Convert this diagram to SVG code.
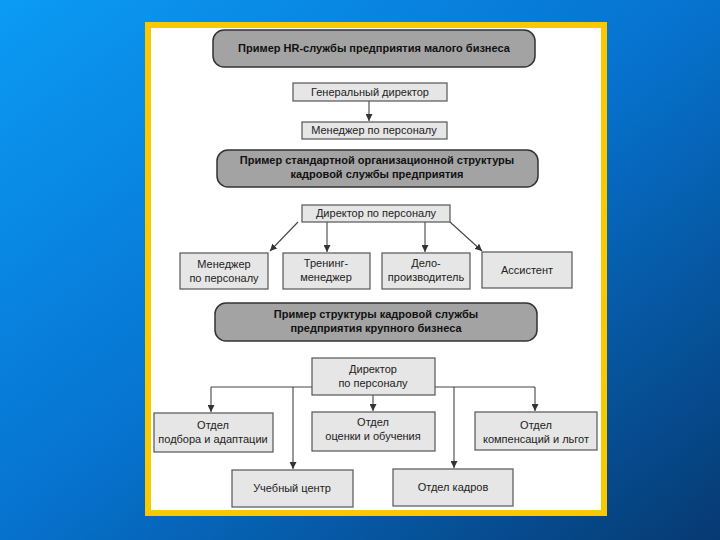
<svg xmlns="http://www.w3.org/2000/svg" width="720" height="540" viewBox="0 0 720 540">
<defs>
<linearGradient id="bg" x1="0" y1="0" x2="1" y2="1">
<stop offset="0" stop-color="#0B9BF5"/>
<stop offset="0.5" stop-color="#0672CE"/>
<stop offset="1" stop-color="#063A72"/>
</linearGradient>
<marker id="ah" viewBox="0 0 10 10" refX="10" refY="5" markerWidth="7" markerHeight="7" markerUnits="userSpaceOnUse" orient="auto">
<path d="M0,0 L10,5 L0,10 z" fill="#333"/>
</marker>
<style>
.hdr{fill:#A3A3A3;stroke:#333;stroke-width:1.5}
.box{fill:#E6E6E6;stroke:#555;stroke-width:1.2}
.ht{font-family:"Liberation Sans",Arial,sans-serif;font-size:11px;font-weight:bold;fill:#111;text-anchor:middle}
.bt{font-family:"Liberation Sans",Arial,sans-serif;font-size:11px;fill:#222;text-anchor:middle}
.ln{fill:none;stroke:#444;stroke-width:1.1}
.ar{fill:none;stroke:#444;stroke-width:1.1;marker-end:url(#ah)}
</style>
</defs>
<rect x="0" y="0" width="720" height="540" fill="url(#bg)"/>
<rect x="148" y="25" width="456" height="488" fill="#FFFFFF" stroke="#F8C800" stroke-width="6"/>

<g id="connectors">
<path class="ar" d="M369,101 V121"/>
<path class="ar" d="M298,222 L270,251"/>
<path class="ar" d="M327,222 V252"/>
<path class="ar" d="M425,222 V252"/>
<path class="ar" d="M450,222 L482,251"/>
<path class="ln" d="M312,387 H211"/>
<path class="ar" d="M211,387 V412"/>
<path class="ln" d="M435,387 H535"/>
<path class="ar" d="M535,387 V411"/>
<path class="ar" d="M373,395 V411"/>
<path class="ar" d="M293,387 V469"/>
<path class="ar" d="M454,387 V468"/>
</g>

<g id="header1">
<rect class="hdr" x="213" y="30" width="322" height="37" rx="11"/>
<text class="ht" x="374" y="52">Пример HR-службы предприятия малого бизнеса</text>
</g>
<g id="gen-director">
<rect class="box" x="293" y="83" width="154" height="18"/>
<text class="bt" x="370" y="96">Генеральный директор</text>
</g>
<g id="hr-manager-small">
<rect class="box" x="302" y="122" width="145" height="17"/>
<text class="bt" x="374" y="134">Менеджер по персоналу</text>
</g>

<g id="header2">
<rect class="hdr" x="217" y="150" width="321" height="37" rx="11"/>
<text class="ht" x="377" y="164">Пример стандартной организационной структуры</text>
<text class="ht" x="377" y="178">кадровой службы предприятия</text>
</g>
<g id="hr-director-std">
<rect class="box" x="302" y="205" width="148" height="17"/>
<text class="bt" x="376" y="217">Директор по персоналу</text>
</g>
<g id="hr-manager-std">
<rect class="box" x="180" y="253" width="88" height="36"/>
<text class="bt" x="224" y="268">Менеджер</text>
<text class="bt" x="224" y="282">по персоналу</text>
</g>
<g id="training-manager">
<rect class="box" x="283" y="253" width="87" height="36"/>
<text class="bt" x="326" y="267">Тренинг-</text>
<text class="bt" x="326" y="281">менеджер</text>
</g>
<g id="clerk">
<rect class="box" x="382" y="253" width="88" height="36"/>
<text class="bt" x="426" y="267">Дело-</text>
<text class="bt" x="426" y="281">производитель</text>
</g>
<g id="assistant">
<rect class="box" x="482" y="252" width="90" height="36"/>
<text class="bt" x="527" y="274">Ассистент</text>
</g>

<g id="header3">
<rect class="hdr" x="215" y="303" width="322" height="38" rx="11"/>
<text class="ht" x="376" y="318">Пример структуры кадровой службы</text>
<text class="ht" x="376" y="332">предприятия крупного бизнеса</text>
</g>
<g id="hr-director-large">
<rect class="box" x="312" y="358" width="123" height="37"/>
<text class="bt" x="373" y="373">Директор</text>
<text class="bt" x="373" y="387">по персоналу</text>
</g>
<g id="dept-recruitment">
<rect class="box" x="154" y="413" width="119" height="39"/>
<text class="bt" x="213" y="429">Отдел</text>
<text class="bt" x="213" y="443">подбора и адаптации</text>
</g>
<g id="dept-assessment">
<rect class="box" x="312" y="412" width="123" height="39"/>
<text class="bt" x="373" y="426">Отдел</text>
<text class="bt" x="373" y="440">оценки и обучения</text>
</g>
<g id="dept-compensation">
<rect class="box" x="475" y="412" width="122" height="38"/>
<text class="bt" x="536" y="429">Отдел</text>
<text class="bt" x="536" y="443">компенсаций и льгот</text>
</g>
<g id="training-center">
<rect class="box" x="232" y="470" width="121" height="37"/>
<text class="bt" x="292" y="492">Учебный центр</text>
</g>
<g id="personnel-dept">
<rect class="box" x="393" y="469" width="120" height="37"/>
<text class="bt" x="453" y="491">Отдел кадров</text>
</g>
</svg>
